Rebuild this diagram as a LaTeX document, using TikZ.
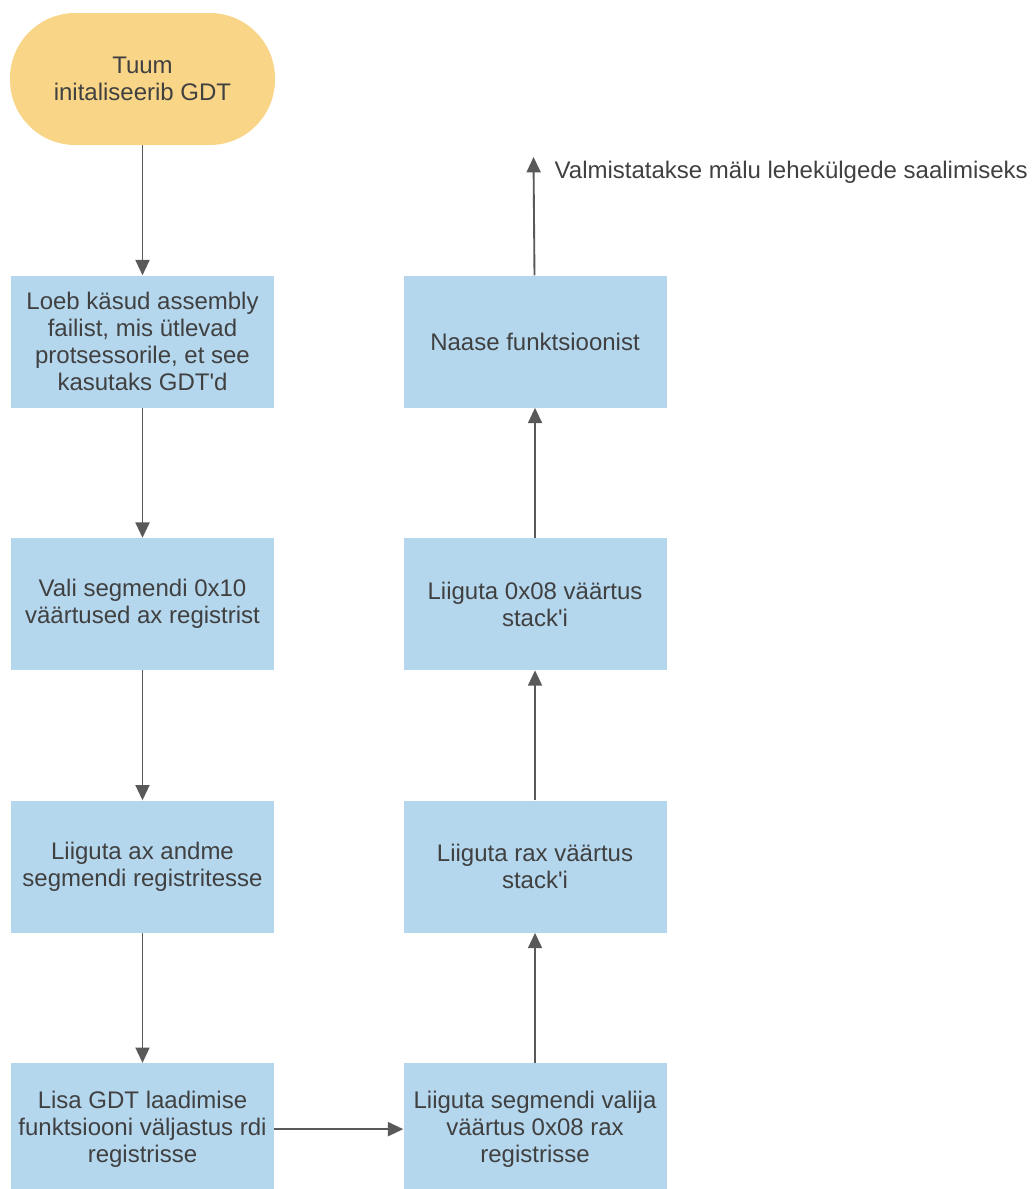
\documentclass[tikz,border=0pt]{standalone}
\usepackage{fontspec}
\setmainfont{Liberation Sans}
\usetikzlibrary{arrows.meta,positioning}
\definecolor{gdtInk}{HTML}{404040}
\definecolor{gdtArrow}{HTML}{595959}
\definecolor{gdtBox}{HTML}{B4D7EE}
\definecolor{gdtStart}{HTML}{F9D588}

\begin{document}
\begin{tikzpicture}[x=0.75pt,y=-0.75pt,
  node distance=97.5pt and 96.75pt,
  every node/.style={text=gdtInk,font=\fontsize{18}{20.25}\selectfont,align=center},
  stepbox/.style={fill=gdtBox,minimum width=197.25pt,minimum height=99pt,inner sep=0pt},
  startbox/.style={fill=gdtStart,rounded corners=49pt,minimum width=198.75pt,minimum height=99pt,inner sep=0pt},
  flow/.style={draw=gdtArrow,line width=1.4pt,-{Triangle[width=10.5pt,length=11.5pt]}}]
  \useasboundingbox (0,0) rectangle (1035,1189);

  % left column, top to bottom
  \node[startbox] (tuum) at (142.5,79) {Tuum\\initaliseerib GDT};
  \node[stepbox,below=of tuum] (loeb) {Loeb käsud assembly\\failist, mis ütlevad\\protsessorile, et see\\kasutaks GDT\textquotesingle d};
  \node[stepbox,below=of loeb] (vali) {Vali segmendi 0x10\\väärtused ax registrist};
  \node[stepbox,below=of vali] (andme) {Liiguta ax andme\\segmendi registritesse};
  \node[stepbox,below=of andme] (lisa) {Lisa GDT laadimise\\funktsiooni väljastus rdi\\registrisse};

  % right column, bottom to top
  \node[stepbox,right=of lisa] (valija) {Liiguta segmendi valija\\väärtus 0x08 rax\\registrisse};
  \node[stepbox,above=of valija] (rax) {Liiguta rax väärtus\\stack\textquotesingle i};
  \node[stepbox,above=of rax] (stack) {Liiguta 0x08 väärtus\\stack\textquotesingle i};
  \node[stepbox,above=of stack] (naase) {Naase funktsioonist};

  \coordinate (lopp) at (533.5,157);
  \node[anchor=west] (valm) at (550,172) {Valmistatakse mälu lehekülgede saalimiseks};

  \draw[flow] (tuum) -- (loeb);
  \draw[flow] (loeb) -- (vali);
  \draw[flow] (vali) -- (andme);
  \draw[flow] (andme) -- (lisa);
  \draw[flow] (lisa) -- (valija);
  \draw[flow] (valija) -- (rax);
  \draw[flow] (rax) -- (stack);
  \draw[flow] (stack) -- (naase);
  \draw[flow] (naase) -- (lopp);
\end{tikzpicture}
\end{document}
